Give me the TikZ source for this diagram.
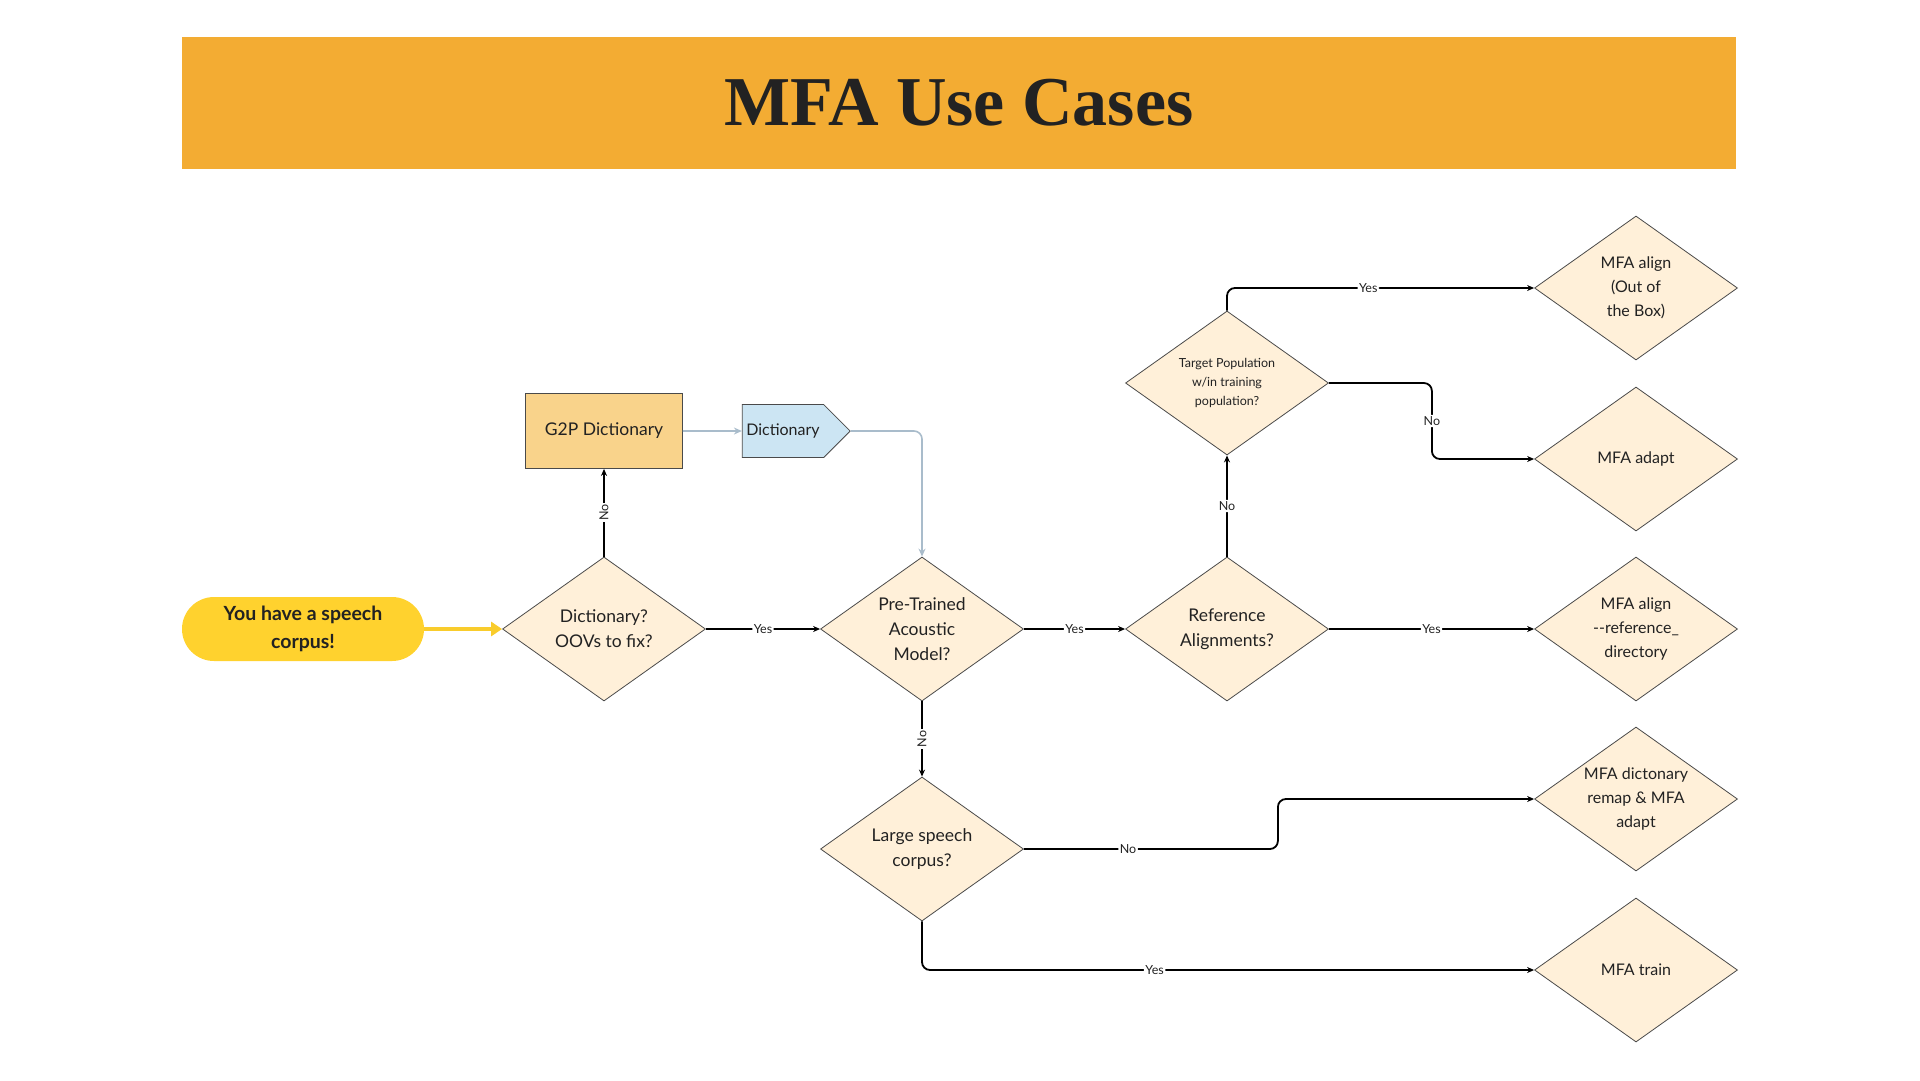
\documentclass[tikz,border=0pt]{standalone}
\usepackage{fontspec}
\setmainfont{Lato}
\newfontfamily\titlefont{Liberation Serif}
\usetikzlibrary{shapes.geometric,shapes.symbols,positioning,arrows.meta}

\definecolor{barorange}{HTML}{F3AC33}
\definecolor{inkdark}{HTML}{222222}
\definecolor{diamondfill}{HTML}{FFF0D9}
\definecolor{diamondline}{HTML}{4A4A4A}
\definecolor{g2pfill}{HTML}{F9D38B}
\definecolor{dictfill}{HTML}{CCE5F3}
\definecolor{startyellow}{HTML}{FFD22E}
\definecolor{arrowyellow}{HTML}{F9CC2C}
\definecolor{linkgray}{HTML}{A9BCCB}

\begin{document}
\begin{tikzpicture}[x=1pt, y=-1pt, on grid, text=inkdark,
    >={Stealth[length=7pt,width=6pt]},
    titlebar/.style={fill=barorange, minimum width=1554pt, minimum height=132pt,
        font=\titlefont\bfseries\fontsize{70}{80}\selectfont},
    startbox/.style={rectangle, rounded corners=32pt, fill=startyellow, minimum width=242pt,
        minimum height=64pt, align=center, font=\bfseries\fontsize{19.5}{28}\selectfont},
    decision/.style={diamond, draw=diamondline, line width=0.8pt, fill=diamondfill, aspect=1.42,
        minimum width=203pt, minimum height=144pt, inner sep=0pt, align=center,
        font=\fontsize{17.5}{25}\selectfont},
    outcome/.style={decision, font=\fontsize{16}{24}\selectfont},
    g2pbox/.style={rectangle, draw=diamondline, line width=0.8pt, fill=g2pfill, minimum width=157pt,
        minimum height=75pt, font=\fontsize{17.5}{22}\selectfont},
    dictsig/.style={signal, signal to=east, signal pointer angle=90, draw=diamondline, line width=0.8pt,
        fill=dictfill, minimum width=107pt, minimum height=53pt, inner sep=4pt,
        font=\fontsize{16}{20}\selectfont},
    flow/.style={->, line width=1.8pt, rounded corners=8pt},
    thinflow/.style={->, line width=1.2pt},
    graylink/.style={-{Stealth[length=8pt,width=7pt]}, draw=linkgray, line width=1.6pt,
        rounded corners=8pt},
    startarrow/.style={-{Triangle[length=11pt,width=14pt]}, draw=arrowyellow, line width=4pt},
    lbl/.style={fill=white, inner sep=1.5pt, font=\fontsize{12.5}{14}\selectfont}]

    \useasboundingbox (0,0) rectangle (1920,1080);

    \node[titlebar] (title) at (959,103) {MFA Use Cases};

    \node[startbox] (start) at (303,629) {You have a speech\\corpus!};
    \node[decision] (dict) at (604,629) {Dictionary?\\OOVs to fix?};
    \node[g2pbox] (g2p) [above=198pt of dict] {G2P Dictionary};
    \node[dictsig] (dictfile) [on grid=false, right=59pt of g2p] {Dictionary};
    \node[decision] (acoustic) [right=318pt of dict] {Pre-Trained\\Acoustic\\Model?};
    \node[decision] (refalign) [right=305pt of acoustic] {Reference\\Alignments?};
    \node[decision, font=\fontsize{12.5}{19}\selectfont] (target) [above=246pt of refalign]
        {Target Population\\w/in training\\population?};
    \node[decision] (large) [below=220pt of acoustic] {Large speech\\corpus?};

    \node[outcome] (outbox) at (1636,288) {MFA align\\(Out of\\the Box)};
    \node[outcome] (adapt) at (1636,459) {MFA adapt};
    \node[outcome] (refdir) [right=409pt of refalign] {MFA align\\-{}-reference\_\\directory};
    \node[outcome] (remap) at (1636,799) {MFA dictonary\\remap \& MFA\\adapt};
    \node[outcome] (train) at (1636,970) {MFA train};

    \draw[startarrow] (start) -- (dict);

    \draw[graylink] (g2p) -- (dictfile);
    \draw[graylink] (dictfile.east) -| (acoustic.north);

    \path[thinflow]
     (dict)     edge node[lbl, rotate=90] {No} (g2p)
     (acoustic) edge node[lbl, rotate=90] {No} (large);
    \path[flow]
     (dict)     edge node[lbl] {Yes} (acoustic)
     (acoustic) edge node[lbl] {Yes} (refalign)
     (refalign) edge node[lbl] {Yes} (refdir)
     (refalign) edge node[lbl] {No}  (target);

    \draw[flow] (target.north) |- node[lbl, pos=0.73] {Yes} (outbox.west);
    \draw[flow] (target.east) -- ++(103,0) |- node[lbl, pos=0.25] {No} (adapt.west);
    \draw[flow] (large.east) -- node[lbl, pos=0.41] {No} ++(254,0) |- (remap.west);
    \draw[flow] (large.south) |- node[lbl, pos=0.69] {Yes} (train.west);
\end{tikzpicture}
\end{document}
